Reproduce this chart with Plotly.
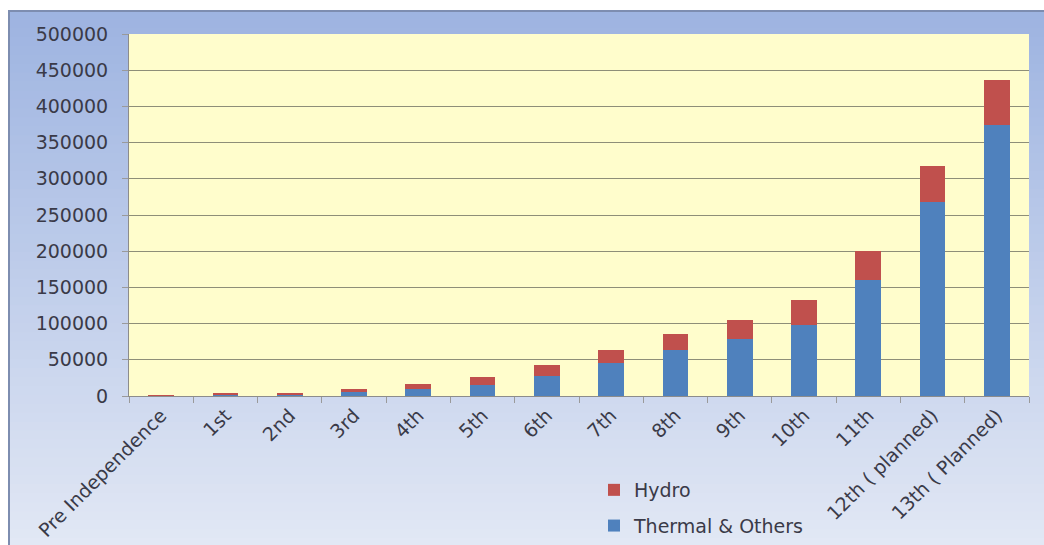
import plotly.graph_objects as go

categories = ["Pre Independence", "1st", "2nd", "3rd", "4th", "5th", "6th", "7th",
              "8th", "9th", "10th", "11th", "12th ( planned)", "13th ( Planned)"]
thermal_others = [854, 1825, 2736, 4903, 9698, 15847, 28125, 45329,
                  64137, 78777, 97675, 160887, 268000, 375000]
hydro = [508, 1061, 1917, 4124, 6966, 10833, 14460, 18307,
         21658, 26269, 34654, 38990, 49000, 62000]

FONT = "DejaVu Sans"
TXT = "#3a3a48"

fig = go.Figure()
fig.add_trace(go.Bar(x=categories, y=thermal_others, name="Thermal & Others",
                     legendrank=2, legendgroup="t",
                     marker=dict(color="#4F81BD", line=dict(width=0))))
fig.add_trace(go.Bar(x=categories, y=hydro, name="Hydro",
                     legendrank=1, legendgroup="h",
                     marker=dict(color="#C0504D", line=dict(width=0))))

W, H = 1044, 545
L, R, T, B = 129, 1029, 34, 396
def px2x(p):
    return (p - L) / (R - L)
def px2y(p):
    return (B - p) / (B - T)

shapes = []
top_c = (158, 180, 225)
bot_c = (226, 232, 245)
n = 60
fy0, fy1 = 10, 547
for i in range(n):
    a = fy0 + (fy1 - fy0) * i / n
    b = fy0 + (fy1 - fy0) * (i + 1) / n + 1
    t = i / (n - 1)
    c = tuple(int(top_c[k] + (bot_c[k] - top_c[k]) * t) for k in range(3))
    shapes.append(dict(type="rect", xref="paper", yref="paper", layer="below",
                       x0=px2x(8), x1=px2x(W + 2), y0=px2y(b), y1=px2y(a),
                       fillcolor="rgb(%d,%d,%d)" % c, line=dict(width=0)))
shapes.append(dict(type="rect", xref="paper", yref="paper", layer="below",
                   x0=px2x(9), x1=px2x(W + 5), y0=px2y(H + 5), y1=px2y(11),
                   fillcolor="rgba(0,0,0,0)", line=dict(color="#7d8db0", width=2)))
shapes.append(dict(type="rect", xref="paper", yref="paper", layer="below",
                   x0=0, x1=1, y0=0, y1=1, fillcolor="#FFFDCC",
                   line=dict(width=0)))

fig.update_layout(
    width=W, height=H,
    margin=dict(l=L, r=W - R, t=T, b=H - B, autoexpand=False),
    barmode="stack",
    bargap=0.6,
    paper_bgcolor="white",
    plot_bgcolor="#FFFDCC",
    shapes=shapes,
    font=dict(family=FONT, size=19, color=TXT),
    showlegend=True,
    legend=dict(xref="container", yref="container",
                x=594 / W, y=1 - 471 / H, xanchor="left", yanchor="top",
                bgcolor="rgba(0,0,0,0)", traceorder="grouped",
                tracegroupgap=8, font=dict(family=FONT, size=19, color=TXT),
                itemwidth=30),
    xaxis=dict(type="category", tickangle=-45, showline=True, linecolor="#8c8c8c",
               linewidth=1, ticks="outside", ticklen=6, tickcolor="#9a9a9a",
               tickson="boundaries", showgrid=False, automargin=False,
               tickfont=dict(family=FONT, size=19, color=TXT)),
    yaxis=dict(range=[0, 500000], dtick=50000, tickformat="d", showline=True,
               linecolor="#8c8c8c", linewidth=1, ticks="outside", ticklen=6,
               tickcolor="#9a9a9a", showgrid=True, gridcolor="#8e8e78",
               gridwidth=1, zeroline=False, automargin=False,
               ticklabelstandoff=10,
               tickfont=dict(family=FONT, size=19, color=TXT)),
)

fig.write_html("out.html")
